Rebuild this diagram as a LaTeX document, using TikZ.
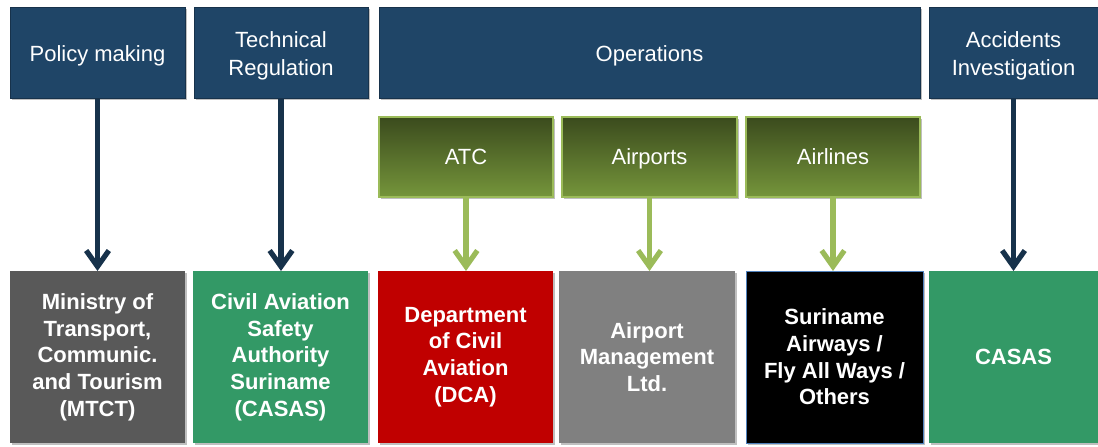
\documentclass[tikz,border=0pt]{standalone}
\usepackage{fontspec}
\setmainfont{Liberation Sans}
\usetikzlibrary{positioning,arrows.meta,shadows}

\definecolor{navy}{HTML}{1F4567}
\definecolor{navyline}{HTML}{17324B}
\definecolor{olivetop}{HTML}{3B4B1D}
\definecolor{olivebot}{HTML}{75953B}
\definecolor{olivelight}{HTML}{9BBB59}
\definecolor{casasgreen}{HTML}{339966}
\definecolor{dcared}{HTML}{C00000}
\definecolor{darkgrey}{HTML}{595959}
\definecolor{midgrey}{HTML}{808080}
\definecolor{edgeblue}{HTML}{4F81BD}

\tikzset{
  box/.style={inner sep=0pt, outer sep=0pt, align=center, text=white,
    drop shadow={shadow xshift=1.2pt, shadow yshift=-1.2pt, opacity=0.25, fill=black}},
  topbox/.style={box, fill=navy, draw=navyline, line width=0.6pt, text height=16.5pt,
    minimum height=68.25pt, font=\fontsize{16.5}{21}\selectfont},
  twolines/.style={text height=37.5pt},
  opbox/.style={box, top color=olivetop, bottom color=olivebot, draw=olivelight,
    line width=1pt, minimum width=130.5pt, minimum height=60pt,
    text height=15pt, text depth=3.5pt, font=\fontsize{16.5}{21}\selectfont},
  unitbox/.style={box, minimum width=131.25pt, minimum height=129pt,
    font=\bfseries\fontsize{16.5}{20}\selectfont},
  navyarrow/.style={draw=navyline, line width=3.9pt,
    -{Straight Barb[length=12pt,width=17pt]}},
  greenarrow/.style={navyarrow, draw=olivelight},
}

\begin{document}
\begin{tikzpicture}
\useasboundingbox (0pt,0pt) rectangle (823.5pt,-334.5pt);

% functions
\node (pol) [topbox, minimum width=131.25pt, anchor=north west] at (7.5pt,-5.25pt) {Policy making};
\node (reg) [topbox, twolines, minimum width=130.5pt, right=6.75pt of pol] {Technical\\Regulation};
\node (ops) [topbox, minimum width=405.75pt, right=8.25pt of reg] {Operations};
\node (acc) [topbox, twolines, minimum width=126.75pt, right=6.75pt of ops] {Accidents\\Investigation};

% operations
\node (atc) [opbox, anchor=north west, below right=14.25pt and 0pt of ops.south west] {ATC};
\node (apt) [opbox, minimum width=131.25pt, right=6.75pt of atc] {Airports};
\node (air) [opbox, right=6.75pt of apt] {Airlines};

% organisations
\node (mtct) [unitbox, fill=darkgrey, below=129.75pt of pol] {Ministry of\\Transport,\\Communic.\\and Tourism\\(MTCT)};
\node (casas) [unitbox, fill=casasgreen, right=6pt of mtct] {Civil Aviation\\Safety\\Authority\\Suriname\\(CASAS)};
\node (dca) [unitbox, fill=dcared, right=7.5pt of casas] {Department\\of Civil\\Aviation\\(DCA)};
\node (aml) [unitbox, fill=midgrey, minimum width=132pt, right=4.5pt of dca] {Airport\\Management\\Ltd.};
\node (sa) [unitbox, fill=black, draw=edgeblue, line width=0.6pt, minimum width=132.75pt, right=8.25pt of aml] {Suriname\\Airways /\\Fly All Ways /\\Others};
\node (cas2) [unitbox, fill=casasgreen, minimum width=126.75pt, right=4.5pt of sa] {CASAS};

% arrows
\draw[navyarrow] (pol) -- (pol |- mtct.north);
\draw[navyarrow] (reg) -- (reg |- casas.north);
\draw[navyarrow] (acc) -- (acc |- cas2.north);
\draw[greenarrow] (atc) -- (atc |- dca.north);
\draw[greenarrow] (apt) -- (apt |- aml.north);
\draw[greenarrow] (air) -- (air |- sa.north);
\end{tikzpicture}
\end{document}
